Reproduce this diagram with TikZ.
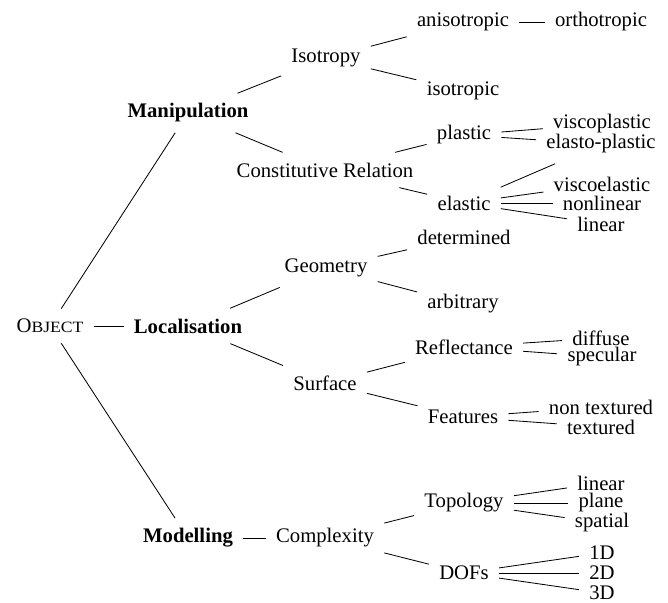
\documentclass[tikz,border=0pt]{standalone}
\usepackage{fontspec}
\setmainfont{Liberation Serif}

\begin{document}
\begin{tikzpicture}[x=0.483pt,y=-0.483pt,
  every node/.style={inner sep=4.8pt},
  main/.style={font=\bfseries}]
\useasboundingbox (0,0) rectangle (668,603);
% root and first level
\node (obj) at (50,326) {O\scalebox{1.12}[1]{\fontsize{7.6}{9}\selectfont BJECT}};
\node[main] (man) at (188,113) {Manipulation};
\node[main] (loc) at (188,326) {Localisation};
\node[main] (mod) at (188,538) {Modelling};
% second level
\node (iso) at (326,58) {Isotropy};
\node (con) at (325,170) {Constitutive Relation};
\node (geo) at (326,268) {Geometry};
\node (sur) at (325,383) {Surface};
\node (cpx) at (325,538) {Complexity};
% third level
\node (ani) at (463,22) {anisotropic};
\node (isot) at (463,91) {isotropic};
\node (pla) at (464,135) {plastic};
\node (ela) at (464,203) {elastic};
\node (det) at (464,237) {determined};
\node (arb) at (463,304) {arbitrary};
\node (ref) at (464,347) {Reflectance};
\node (fea) at (463,417) {Features};
\node (top) at (464,503) {Topology};
\node (dof) at (464,573) {DOFs};
% leaves
\node (ort) at (601,22) {orthotropic};
\node (vpl) at (602,124) {viscoplastic};
\node (epl) at (601,144) {elasto-plastic};
\node (vel) at (602,184) {viscoelastic};
\node (nli) at (602,203) {nonlinear};
\node (lin) at (601,224) {linear};
\node (dif) at (601,338) {diffuse};
\node (spe) at (602,357) {specular};
\node (ntx) at (601,407) {non textured};
\node (txt) at (601,427) {textured};
\node (tli) at (601,483) {linear};
\node (pln) at (601,503) {plane};
\node (spa) at (602,523) {spatial};
\node (d1) at (602,553) {1D};
\node (d2) at (602,573) {2D};
\node (d3) at (602,593) {3D};
\foreach \a/\b in {obj/man,obj/loc,obj/mod,man/iso,man/con,loc/geo,loc/sur,mod/cpx,
  iso/ani,iso/isot,ani/ort,con/pla,con/ela,pla/vpl,pla/epl,ela/epl,ela/vel,ela/nli,ela/lin,
  geo/det,geo/arb,sur/ref,sur/fea,ref/dif,ref/spe,fea/ntx,fea/txt,
  cpx/top,cpx/dof,top/tli,top/pln,top/spa,dof/d1,dof/d2,dof/d3}
{
\draw (\a) -- (\b);
}
\end{tikzpicture}
\end{document}
